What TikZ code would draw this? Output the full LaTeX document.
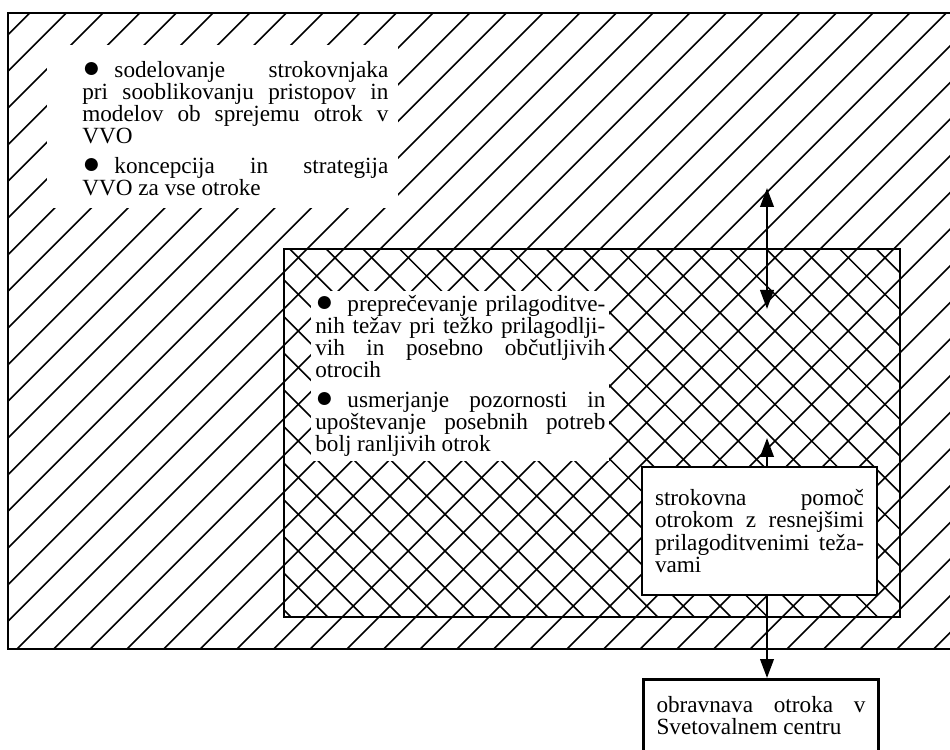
\documentclass[tikz,border=0pt]{standalone}
\usepackage{fontspec}
\setmainfont{Liberation Serif}
\usepackage{graphicx}
\usepackage{tikz}
\usetikzlibrary{arrows.meta,positioning,calc}

\newcommand{\besedilo}{\fontsize{13.2}{12.6}\selectfont\tolerance=9999\hyphenpenalty=10000\lineskiplimit=-10pt\relax}
\newcommand{\pika}{\raisebox{-0.2pt}{\scalebox{1.3}{●}}\kern0.6em}

\begin{document}
\begin{tikzpicture}[
  hatch/.style={line width=0.9pt},
  frame/.style={line width=1.6pt},
  txt/.style={inner sep=0pt,align=justify,font=\besedilo},
  box/.style={draw,line width=1.6pt,fill=white,align=justify,text width=4.18cm,inner xsep=0.26cm,font=\besedilo},
  arr/.style={line width=1.4pt,-{Triangle[length=0.38cm,width=0.27cm]}},
  darr/.style={line width=1.4pt,{Triangle[length=0.38cm,width=0.27cm]}-{Triangle[length=0.38cm,width=0.27cm]}}
]
  \useasboundingbox (0,0) rectangle (19,14.98);
  \clip (0,0) rectangle (19,14.98);

  % poševne črte (zunaj)
  \begin{scope}
    \clip (0.16,2.0) rectangle (19.3,14.72);
    \foreach \j in {-21,...,25}
      \draw[hatch] ({-0.193+0.7333*\j+1},1) -- ++(14.5,14.5);
  \end{scope}

  % mreža (znotraj)
  \begin{scope}
    \clip (5.68,2.64) rectangle (18,10);
    \foreach \j in {10,...,39}
      \draw[hatch] ({0.393+0.7333*\j-2},2) -- ++(-8.5,8.5);
  \end{scope}

  % okvirja
  \draw[frame] (0.16,2.0) rectangle (19.3,14.72);
  \draw[line width=1.3pt] (5.68,2.64) rectangle (18,10);

  % belo polje zgoraj levo
  \fill[white] (0.94,10.82) rectangle (7.96,14.08);

  \node[txt,text width=6.12cm,anchor=north west] (vvo) at (1.64,13.76)
    {\pika sodelovanje strokovnjaka\linebreak pri sooblikovanju pristopov in\linebreak
     modelov ob sprejemu otrok v\linebreak VVO\par\vspace{0.15cm}
     \pika koncepcija in strategija\linebreak VVO za vse otroke};

  \node[txt,text width=5.8cm,fill=white,inner sep=0.08cm,anchor=north west] (prep) at (6.22,9.16)
    {\pika preprečevanje prilagoditve-\linebreak nih težav pri težko prilagodlji-\linebreak
     vih in posebno občutljivih\linebreak otrocih\par\vspace{0.15cm}
     \pika usmerjanje pozornosti in\linebreak upoštevanje posebnih potreb\linebreak
     bolj ranljivih otrok};

  % okvirja s besedilom
  \node[box,minimum height=2.56cm] (pomoc) at (15.19,4.36)
    {strokovna pomoč\linebreak otrokom z resnejšimi\linebreak prilagoditvenimi teža-\linebreak vami};
  \node[box,minimum height=1.44cm,anchor=north] (center) at (15.22,1.42)
    {obravnava otroka v\linebreak Svetovalnem centru};

  % puščice
  \coordinate (gor) at (15.34,11.22);
  \coordinate (dol) at (15.34,8.8);
  \draw[darr] (gor) -- (dol);
  \coordinate (vrh) at (15.34,6.22);
  \draw[arr] (pomoc.north -| vrh) -- (vrh);
  \draw[arr] (pomoc.south -| vrh) -- (center.north -| vrh);
\end{tikzpicture}
\end{document}
